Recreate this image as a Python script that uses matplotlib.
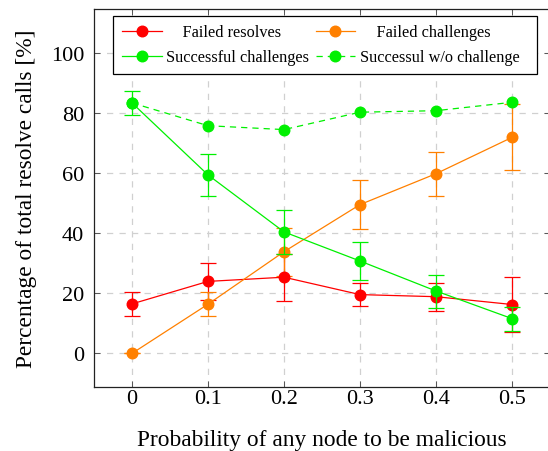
import matplotlib
matplotlib.use("Agg")
import matplotlib.pyplot as plt
from matplotlib.lines import Line2D

plt.rcParams['font.family'] = ['Liberation Serif', 'DejaVu Serif']

x = [0, 0.1, 0.2, 0.3, 0.4, 0.5]
x_ticklabels = ['0', '0.1', '0.2', '0.3', '0.4', '0.5']
y_ticks = [0, 20, 40, 60, 80, 100]

failed_resolves = [16.5, 24.0, 25.4, 19.6, 18.9, 16.3]
failed_resolves_err = [3.9, 6.3, 7.9, 3.9, 4.6, 9.3]
failed_challenges = [0.0, 16.4, 33.9, 49.6, 59.9, 72.0]
failed_challenges_err = [0.0, 4.0, 8.0, 8.2, 7.3, 11.0]
successful_challenges = [83.5, 59.5, 40.5, 30.8, 20.8, 11.6]
successful_challenges_err = [3.9, 7.1, 7.3, 6.2, 5.5, 4.0]
successful_wo = [83.5, 75.9, 74.6, 80.4, 80.9, 83.7]

labels = ['Failed resolves', 'Failed challenges', 'Successful challenges', 'Successul w/o challenge']
RED, ORANGE, GREEN = '#ff0000', '#ff8000', '#00f000'

fig = plt.figure(figsize=(5.48, 4.52), dpi=100)
ax = fig.add_axes([94/548, (452-388.3)/452, (550-94)/548, 378.3/452])

ms = 7.6
lw = 0.9
cap = 5.5
ekw = dict(elinewidth=lw, capthick=lw)
ax.errorbar(x, failed_resolves, yerr=failed_resolves_err, color=RED, marker='o', ms=ms, lw=lw, capsize=cap, **ekw, zorder=3)
ax.errorbar(x, failed_challenges, yerr=failed_challenges_err, color=ORANGE, marker='o', ms=ms, lw=lw, capsize=cap, **ekw, zorder=3)
ax.errorbar(x, successful_challenges, yerr=successful_challenges_err, color=GREEN, marker='o', ms=ms, lw=lw, capsize=cap, **ekw, zorder=4)
ax.plot(x, successful_wo, color=GREEN, marker='o', ms=ms, lw=lw, ls=(0, (5, 4)), zorder=4)

ax.set_xlim(-0.05, 0.55)
ax.set_ylim(-11.3, 114.8)
ax.set_xticks(x)
ax.set_xticklabels(x_ticklabels)
ax.set_yticks(y_ticks)
ax.grid(True, color='#d0d0d0', ls=(0, (5, 5)), lw=0.9)
ax.set_axisbelow(True)
ax.tick_params(direction='in', length=4, width=0.7, color='#555555', top=True, right=True,
               labelsize=16)
ax.tick_params(axis='x', pad=1)
ax.tick_params(axis='y', pad=7)
for s in ax.spines.values():
    s.set_linewidth(0.9)
    s.set_color('#222222')

ax.set_xlabel('Probability of any node to be malicious', fontsize=16.8, labelpad=15)
ax.set_ylabel('Percentage of total resolve calls [%]', fontsize=16.8, labelpad=10)

def h(c, ls='-'):
    return Line2D([], [], color=c, marker='o', ms=ms, lw=lw, ls=ls)

handles = [h(RED), h(GREEN), h(ORANGE), h(GREEN, (0, (5, 4)))]
leg_labels = ['    ' + labels[0], labels[2], '    ' + labels[1], labels[3] + '  ']
leg = ax.legend(handles, leg_labels, ncol=2, loc='upper left', bbox_to_anchor=(112.7/548, 1 - 16.5/452),
                bbox_transform=fig.transFigure, fontsize=11.7, frameon=True, fancybox=False,
                edgecolor='black', framealpha=1, handlelength=2.46, handletextpad=0.3,
                columnspacing=0.37, labelspacing=0.55, borderpad=0.55, borderaxespad=0)
leg.get_frame().set_linewidth(0.9)

fig.savefig('out.png', dpi=100)
